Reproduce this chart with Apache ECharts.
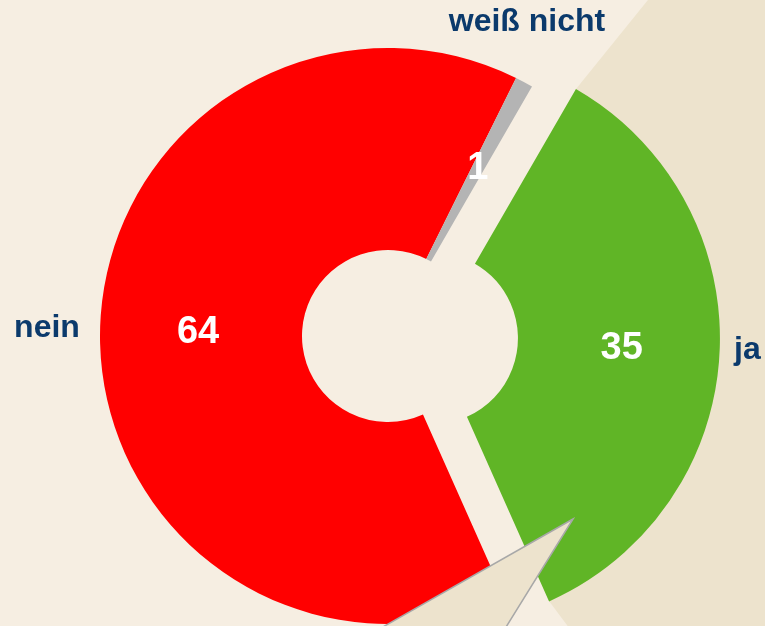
<!DOCTYPE html>
<html>
<head>
<meta charset="utf-8">
<script src="https://cdn.jsdelivr.net/npm/echarts@6/dist/echarts.min.js"></script>
<style>
  html, body { margin: 0; padding: 0; }
  #chart { width: 765px; height: 626px; }
</style>
</head>
<body>
<div id="chart"></div>
<script>
  // Umfrage: ja / nein / weiß nicht
  var categories = ['ja', 'nein', 'weiß nicht'];
  var values = [35, 64, 1];
  var sliceColors = ['#60b526', '#ff0000', '#b4b4b4'];
  // where the outer name labels sit
  var namePos = [[734, 350, 'left'], [47, 328, 'center'], [527, 22, 'center']];

  var pieCenter = [388, 336];
  var pieRadius = [86, 288];

  var myChart = echarts.init(document.getElementById('chart'));

  var valueData = categories.map(function (c, i) {
    return {
      name: c,
      value: values[i],
      selected: i === 0,
      itemStyle: { color: sliceColors[i] }
    };
  });

  myChart.setOption({
    backgroundColor: '#f6eee2',
    animation: false,
    graphic: [
      {
        // dunkler Hintergrund rechts, hinter "ja"
        type: 'polygon',
        z: 0,
        silent: true,
        shape: { points: [[576, 89], [656, -10], [800, -10], [800, 700], [623, 700], [549, 601]] },
        style: { fill: '#ede3cd' }
      },
      {
        // Sprechblasen-Spitze unten
        type: 'polygon',
        z: 10,
        silent: true,
        shape: { points: [[573, 519], [360, 640], [498, 640]] },
        style: { fill: '#ede3cd', stroke: '#a8a8a8', lineWidth: 1.5 }
      }
    ],
    series: [
      {
        type: 'pie',
        z: 2,
        center: pieCenter,
        radius: pieRadius,
        startAngle: 60,
        clockwise: true,
        selectedMode: 'single',
        selectedOffset: 44,
        avoidLabelOverlap: false,
        emphasis: { disabled: true },
        label: {
          show: true,
          position: 'inside',
          formatter: '{c}',
          color: '#ffffff',
          fontFamily: 'Liberation Sans, Arial, sans-serif',
          fontWeight: 'bold',
          fontSize: 38
        },
        labelLine: { show: false },
        data: valueData
      },
      {
        // nur fuer die Namen aussen
        type: 'pie',
        z: 3,
        silent: true,
        center: pieCenter,
        radius: pieRadius,
        startAngle: 60,
        clockwise: true,
        emphasis: { disabled: true },
        itemStyle: { color: 'rgba(0,0,0,0)' },
        label: {
          show: true,
          position: 'outside',
          formatter: '{b}',
          overflow: 'none',
          width: 300,
          color: '#0b3a6c',
          fontFamily: 'Liberation Sans, Arial, sans-serif',
          fontWeight: 'bold',
          fontSize: 32
        },
        labelLine: { show: false },
        labelLayout: function (params) {
          var p = namePos[params.dataIndex];
          return { x: p[0], y: p[1], align: p[2], verticalAlign: 'middle' };
        },
        data: categories.map(function (c, i) {
          return { name: c, value: values[i] };
        })
      }
    ]
  });
</script>
</body>
</html>
